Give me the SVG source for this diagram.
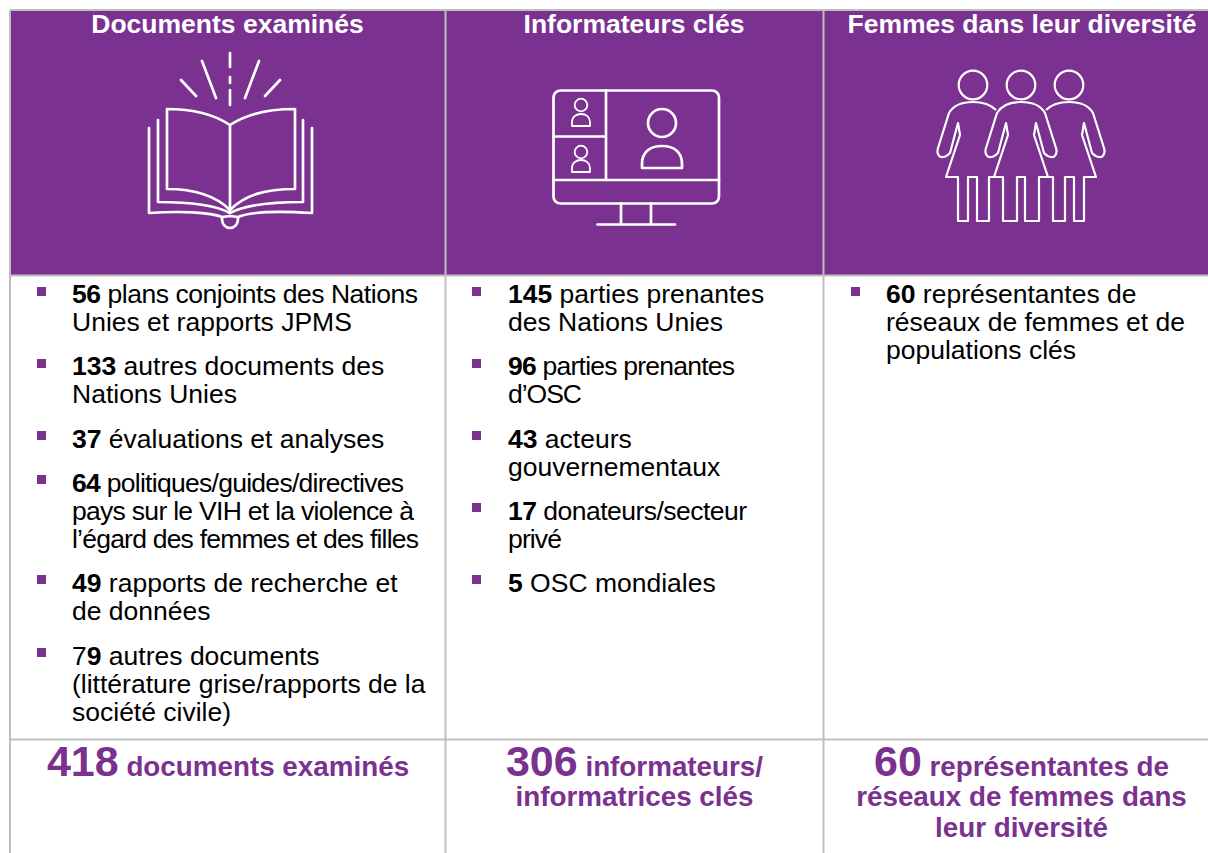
<svg xmlns="http://www.w3.org/2000/svg" width="1208" height="853" viewBox="0 0 1208 853">
<style>
text{font-family:"Liberation Sans",Arial,sans-serif}
.h{font-size:26.500px;font-weight:bold;fill:#fff;text-anchor:middle}
.t{font-size:26.500px;fill:#000}
.t tspan{font-weight:bold}
.f{font-size:27.800px;font-weight:bold;fill:#7a318f;text-anchor:middle}
.f .n{font-size:43px}
.b{fill:#7a318f}
.g{stroke:#bfbfbf;stroke-width:2;fill:none}
.i{fill:none;stroke:#fff;stroke-width:2.700;stroke-linecap:round;stroke-linejoin:round}
.w{fill:none;stroke:#fff;stroke-width:2.200;stroke-linejoin:round}
</style>
<defs>
<path id="half" d="M23 110C18 105 10 102 0 102C-12 102-20 106-24 113L-35 148C-37 154-33 158-30 157C-27 157-25 155-23 153L-15 123L-13 135L-27 177H-15V221H-5V177H4V221H16V177H21"/>
<path id="full" d="M0 102C12 102 20 106 24 113L35 148C37 154 33 158 30 157C27 157 25 155 23 153L15 123L13 135L27 177H18V221H4V177H-4V221H-18V177H-27L-13 135L-15 123L-23 153C-25 155-27 157-30 157C-33 158-37 154-35 148L-24 113C-20 106-12 102 0 102Z"/>
<path id="sm" d="M-9 0V-4C-9-9-5-12 0-12S9-9 9-4V0Z"/>
</defs>
<g id="header-bands">
<rect x="10" y="10" width="1198" height="265" fill="#7a318f"/>
</g>
<g id="grid">
<path class="g" d="M10 10H1208M10 275.500H1208M10 739.500H1208M10 10V853M445.500 10V853M823.500 10V853"/>
</g>
<g id="col1-head">
<text class="h" x="227.500" y="33">Documents examinés</text>
<g id="book-icon" class="i">
<path d="M230 53V67M230 77V83M230 90V105M202 61L216 98M259 61L245 98M181 80L196 96M280 80L265 96"/>
<path d="M230 125C212 113 190 109 167 109V189C195 189 215 195 230 210C245 195 265 189 295 189V109C270 109 248 113 230 125V212"/>
<path d="M158 120V202C190 202 215 205 230 213C245 205 270 202 303 202V120"/>
<path d="M149 128V213C180 211 210 212 222 217L230 216L238 217C250 212 280 211 312 213V128"/>
<path d="M222 218C222 225 226 228 230 228S238 225 238 218"/>
</g>
</g>
<g id="col2-head">
<text class="h" x="634" y="33">Informateurs clés</text>
<g id="monitor-icon" class="i">
<rect x="553.500" y="90.500" width="165.500" height="113" rx="7"/>
<path d="M606 90.500V180M553.500 180H719M553.500 136.500H606M621 203.500V224.500M651 203.500V224.500M597.500 224.500H675"/>
<circle cx="662" cy="123" r="14"/>
<path d="M642 168V164C642 152 650 146 662 146S682 152 682 164V168Z"/>
<circle cx="581" cy="105" r="6.300" stroke-width="1.800"/>
<use href="#sm" x="581" y="126" stroke-width="1.800"/>
<circle cx="581" cy="152" r="6.300" stroke-width="1.800"/>
<use href="#sm" x="581" y="172" stroke-width="1.800"/>
</g>
</g>
<g id="col3-head">
<text class="h" x="1022" y="33">Femmes dans leur diversité</text>
<g id="women-icon" class="w">
<circle cx="973" cy="85" r="14.300"/>
<circle cx="1021" cy="85" r="14.300"/>
<circle cx="1069" cy="85" r="14.300"/>
<use href="#half" x="973"/>
<use href="#half" transform="translate(1069 0) scale(-1 1)"/>
<use href="#full" x="1021"/>
</g>
</g>
<g id="col1-list">
<rect class="b" x="37" y="287" width="9" height="9"/>
<text class="t" x="72" y="303" textLength="346"><tspan>56</tspan> plans conjoints des Nations</text>
<text class="t" x="72" y="331">Unies et rapports JPMS</text>
<rect class="b" x="37" y="359" width="9" height="9"/>
<text class="t" x="72" y="375"><tspan>133</tspan> autres documents des</text>
<text class="t" x="72" y="403">Nations Unies</text>
<rect class="b" x="37" y="431" width="9" height="9"/>
<text class="t" x="72" y="448"><tspan>37</tspan> évaluations et analyses</text>
<rect class="b" x="37" y="475" width="9" height="9"/>
<text class="t" x="72" y="492" textLength="332"><tspan>64</tspan> politiques/guides/directives</text>
<text class="t" x="72" y="520" textLength="342">pays sur le VIH et la violence à</text>
<text class="t" x="72" y="548" textLength="347">l’égard des femmes et des filles</text>
<rect class="b" x="37" y="575" width="9" height="9"/>
<text class="t" x="72" y="592"><tspan>49</tspan> rapports de recherche et</text>
<text class="t" x="72" y="620">de données</text>
<rect class="b" x="37" y="648" width="9" height="9"/>
<text class="t" x="72" y="665">7<tspan>9</tspan> autres documents</text>
<text class="t" x="72" y="693">(littérature grise/rapports de la</text>
<text class="t" x="72" y="721">société civile)</text>
</g>
<g id="col2-list">
<rect class="b" x="472" y="287" width="9" height="9"/>
<text class="t" x="508" y="303"><tspan>145</tspan> parties prenantes</text>
<text class="t" x="508" y="331">des Nations Unies</text>
<rect class="b" x="472" y="359" width="9" height="9"/>
<text class="t" x="508" y="375" textLength="227"><tspan>96</tspan> parties prenantes</text>
<text class="t" x="508" y="403" textLength="74">d’OSC</text>
<rect class="b" x="472" y="431" width="9" height="9"/>
<text class="t" x="508" y="448"><tspan>43</tspan> acteurs</text>
<text class="t" x="508" y="476">gouvernementaux</text>
<rect class="b" x="472" y="503" width="9" height="9"/>
<text class="t" x="508" y="520" textLength="239"><tspan>17</tspan> donateurs/secteur</text>
<text class="t" x="508" y="548" textLength="54">privé</text>
<rect class="b" x="472" y="575" width="9" height="9"/>
<text class="t" x="508" y="592"><tspan>5</tspan> OSC mondiales</text>
</g>
<g id="col3-list">
<rect class="b" x="851" y="287" width="9" height="9"/>
<text class="t" x="886" y="303"><tspan>60</tspan> représentantes de</text>
<text class="t" x="886" y="331">réseaux de femmes et de</text>
<text class="t" x="886" y="359">populations clés</text>
</g>
<g id="col1-total">
<text class="f" x="228" y="776"><tspan class="n">418</tspan> documents examinés</text>
</g>
<g id="col2-total">
<text class="f" x="634.500" y="776"><tspan class="n">306</tspan> informateurs/</text>
<text class="f" x="634.500" y="806">informatrices clés</text>
</g>
<g id="col3-total">
<text class="f" x="1021.500" y="776"><tspan class="n">60</tspan> représentantes de</text>
<text class="f" x="1021.500" y="806">réseaux de femmes dans</text>
<text class="f" x="1021.500" y="837">leur diversité</text>
</g>
</svg>
